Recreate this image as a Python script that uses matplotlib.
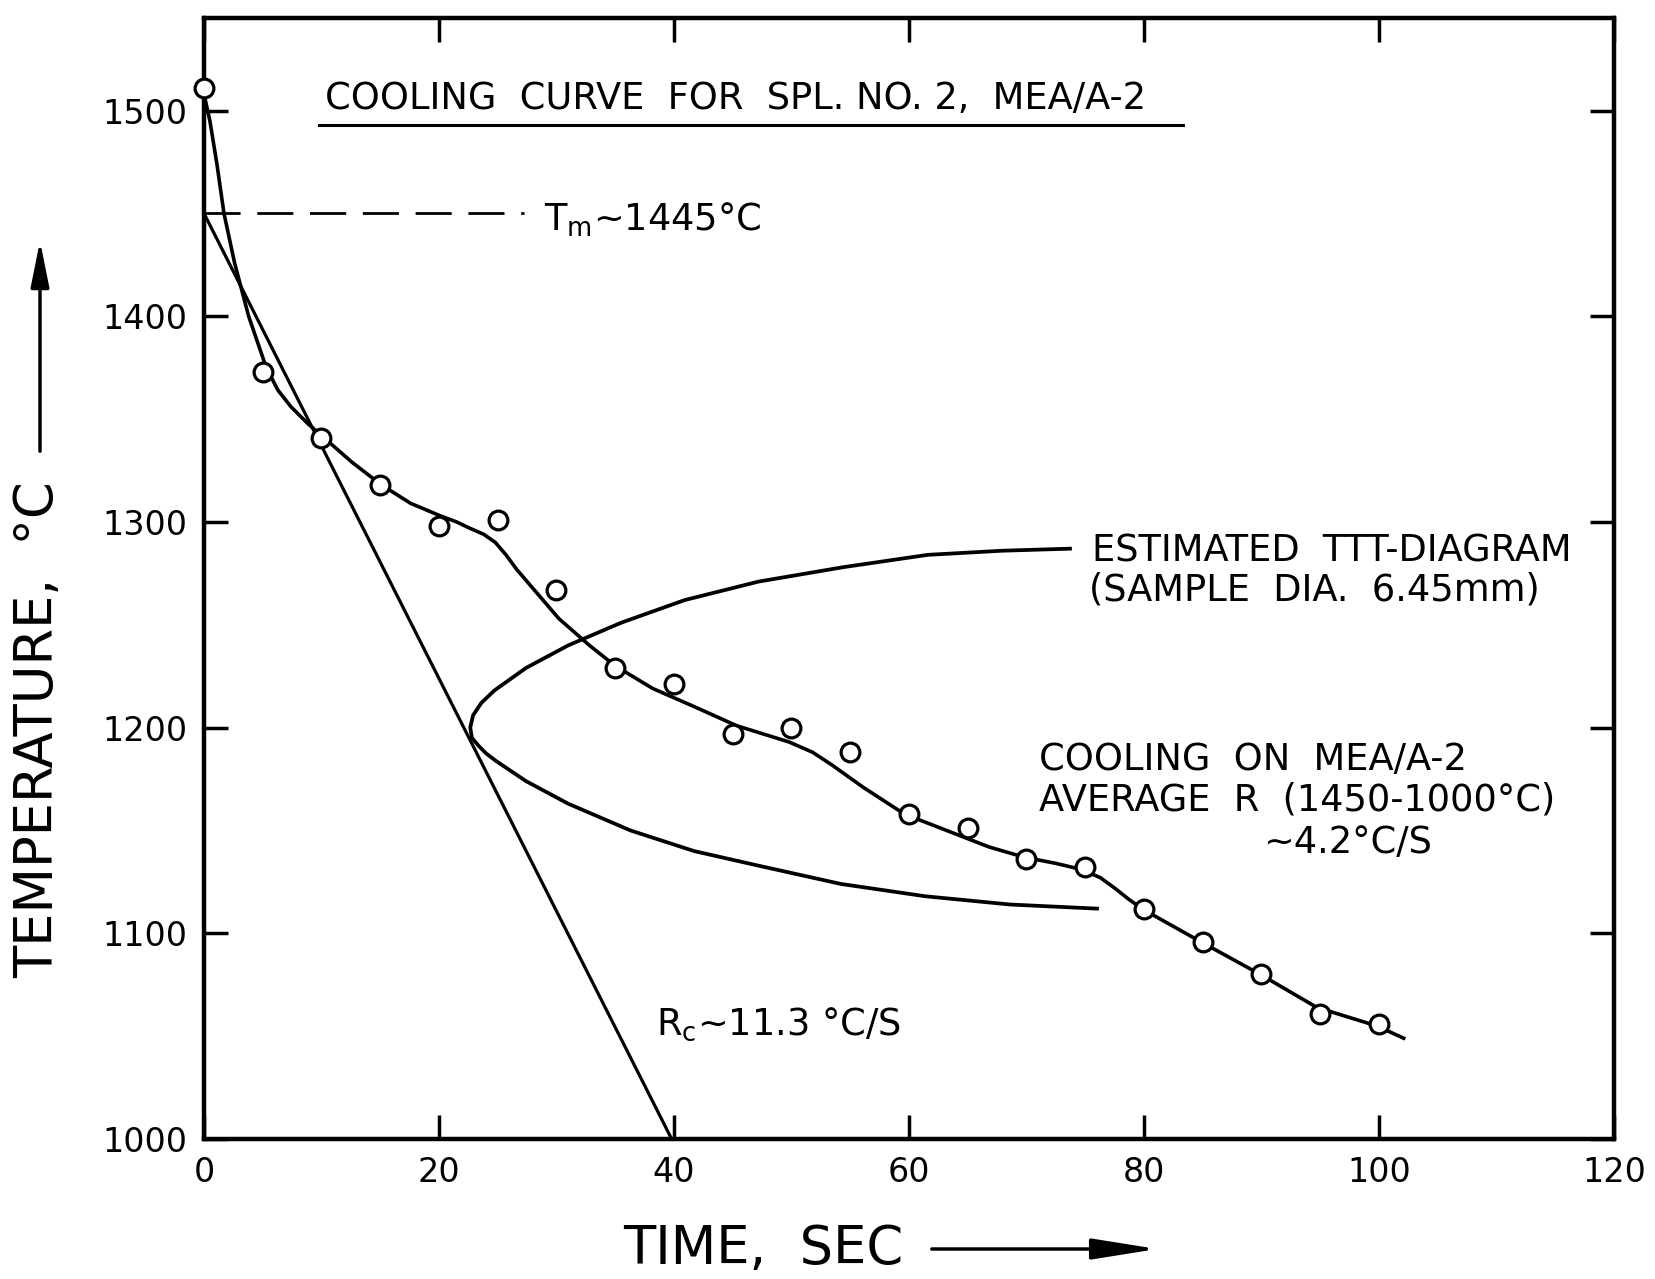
import matplotlib
matplotlib.use('Agg')
import matplotlib.pyplot as plt
from matplotlib.patches import FancyArrowPatch

plt.rcParams['font.family'] = ['DejaVu Sans']
plt.rcParams['mathtext.default'] = 'regular'

# ---- data ----
time_s = [0, 5, 10, 15, 20, 25, 30, 35, 40, 45, 50, 55, 60, 65, 70, 75, 80, 85, 90, 95, 100]
temp_c = [1511, 1373, 1341, 1318, 1298, 1301, 1267, 1229, 1221, 1197, 1200, 1188,
          1158, 1151, 1136, 1132, 1112, 1096, 1080, 1061, 1056]

curve_t = [0, 0.5, 1.1, 1.7, 2.6, 3.8, 5.3, 6.3, 7.4, 8.8, 10.2, 12.6, 15.1, 17.6,
           20.1, 21.5, 22.6, 23.8, 24.8, 25.7, 26.6, 28.4, 30.2, 32.8, 35.0, 38.2,
           41.8, 45.3, 49.8, 51.8, 53.4, 56.1, 59.6, 63.2, 66.8, 69.8, 72.5, 74.7,
           76.3, 77.5, 78.6, 79.8, 84.8, 89.9, 94.7, 99.8, 102.1]
curve_T = [1508, 1495, 1474, 1450, 1426, 1400, 1375, 1364, 1356, 1348, 1341, 1329,
           1318, 1309, 1303, 1300, 1297, 1294, 1290, 1284, 1277, 1265, 1253, 1240,
           1230, 1219, 1210, 1201, 1193, 1188, 1182, 1171, 1158, 1150, 1142, 1137,
           1134, 1131, 1127, 1122, 1117, 1112, 1096, 1080, 1064, 1055, 1049]

ttt_t = [73.7, 67.9, 61.6, 54.4, 47.2, 40.9, 35.5, 31.0, 27.4, 24.7, 23.6, 22.9,
         22.66, 22.8, 23.4, 24.0, 24.8, 27.4, 31.0, 36.3, 41.7, 47.1, 54.2, 61.4,
         68.6, 76.0]
ttt_T = [1287, 1286, 1284, 1278, 1271, 1262, 1251, 1240, 1229, 1218, 1212, 1206,
         1200, 1195, 1191, 1187.5, 1184, 1174, 1163, 1150, 1140, 1133, 1124, 1118,
         1114, 1112]

rc_t = [0, 39.8]
rc_T = [1450, 1000]

tm_t = [0, 27.2]
tm_T = [1450, 1450]

x_ticks = [0, 20, 40, 60, 80, 100, 120]
y_ticks = [1000, 1100, 1200, 1300, 1400, 1500]

# ---- figure ----
W, H = 1656, 1279
fig = plt.figure(figsize=(W / 100, H / 100), dpi=100)
ax = fig.add_axes([204 / W, 1 - 1139 / H, 1410 / W, 1121 / H])
ax.set_xlim(0, 120)
ax.set_ylim(1000, 1545)

for s in ax.spines.values():
    s.set_linewidth(3.2)

ax.set_xticks(x_ticks)
ax.set_yticks(y_ticks)
ax.set_xticklabels([str(v) for v in x_ticks])
ax.set_yticklabels([str(v) for v in y_ticks])
ax.tick_params(direction='in', length=17, width=2.5, top=True, right=True,
               labelsize=24, pad=12)

# lines
ax.plot(curve_t, curve_T, color='black', lw=2.6, zorder=3, solid_joinstyle='round')
ax.plot(ttt_t, ttt_T, color='black', lw=2.7, zorder=3, solid_joinstyle='round')
ax.plot(rc_t, rc_T, color='black', lw=2.3, zorder=3)
ax.plot(tm_t, tm_T, color='black', lw=2.0, linestyle=(0, (13, 6)), zorder=3)
ax.plot(time_s, temp_c, linestyle='none', marker='o', ms=13.5, mew=2.3,
        mfc='white', mec='black', zorder=4, clip_on=False)

# annotations
fs = 26.5
ax.text(10.3, 1506, 'COOLING  CURVE  FOR  SPL. NO. 2,  MEA/A-2', fontsize=fs,
        ha='left', va='center')
ax.plot([9.8, 83.3], [1493, 1493], color='black', lw=2.2)
ax.text(28.9, 1447, r'$T_m$~1445°C', fontsize=fs, ha='left', va='center')
ax.text(75.6, 1286, 'ESTIMATED  TTT-DIAGRAM', fontsize=fs, ha='left', va='center')
ax.text(75.3, 1267, '(SAMPLE  DIA.  6.45mm)', fontsize=fs, ha='left', va='center')
ax.text(71.1, 1184.5, 'COOLING  ON  MEA/A-2', fontsize=fs, ha='left', va='center')
ax.text(71.1, 1165, 'AVERAGE  R  (1450-1000°C)', fontsize=fs, ha='left', va='center')
ax.text(90.1, 1144, '~4.2°C/S', fontsize=fs, ha='left', va='center')
ax.text(38.5, 1056, r'$R_c$~11.3 °C/S', fontsize=fs, ha='left', va='center')

# axis labels with arrows
fig.text(38 / W, 1 - 730 / H, 'TEMPERATURE,  °C', rotation=90, fontsize=38,
         ha='center', va='center')
fig.add_artist(FancyArrowPatch((40 / W, 1 - 454 / H), (40 / W, 1 - 238 / H),
                               transform=fig.transFigure,
                               arrowstyle='-|>,head_length=1.4,head_width=0.28',
                               mutation_scale=20, lw=2.5, color='black'))
fig.text(623 / W, 1 - 1249 / H, 'TIME,  SEC', fontsize=38, ha='left', va='center')
fig.add_artist(FancyArrowPatch((929 / W, 1 - 1249 / H), (1160 / W, 1 - 1249 / H),
                               transform=fig.transFigure,
                               arrowstyle='-|>,head_length=2.0,head_width=0.32',
                               mutation_scale=20, lw=2.5, color='black'))

fig.savefig('out.png', dpi=100, facecolor='white')
